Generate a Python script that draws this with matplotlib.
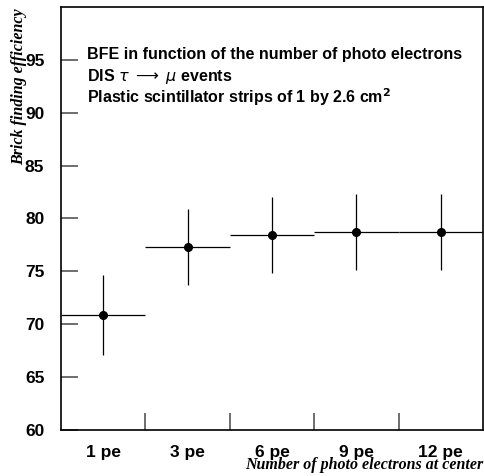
import numpy as np
import matplotlib
matplotlib.use("Agg")
import matplotlib.pyplot as plt

# brick finding efficiency per photo-electron threshold
categories = ["1 pe", "3 pe", "6 pe", "9 pe", "12 pe"]
efficiency = [70.9, 77.3, 78.4, 78.7, 78.7]
eff_err = [3.8, 3.6, 3.6, 3.6, 3.6]

x = np.arange(len(categories))

fig = plt.figure(figsize=(4.85, 4.76), dpi=100)
ax = fig.add_axes([61 / 485, 46 / 476, 422 / 485, 423 / 476])

ax.errorbar(x, efficiency, yerr=eff_err, xerr=0.5, fmt="o", color="black",
            ms=5.5, elinewidth=0.9, capsize=0)

ax.set_xlim(-0.5, len(categories) - 0.5)
ax.set_ylim(60, 100)

tick_font = dict(family="Liberation Sans", weight="bold", size=12.5)
ax.set_yticks(np.arange(60, 100, 5))
ax.set_yticklabels([str(v) for v in range(60, 100, 5)], **tick_font)
ax.set_xticks(x)
ax.set_xticklabels(categories, **tick_font)
ax.set_xticks(np.arange(0.5, len(categories) - 1, 1.0), minor=True)

ax.tick_params(axis="y", which="major", direction="in", length=12, width=1.2,
               color="#555555", pad=12)
ax.tick_params(axis="x", which="major", length=0, pad=11)
ax.tick_params(axis="x", which="minor", direction="in", length=12, width=1.2,
               color="#555555")
ax.tick_params(axis="y", which="minor", left=False)

for side in ["top", "right", "left", "bottom"]:
    ax.spines[side].set_linewidth(1.2)

label_font = dict(family="Liberation Serif", weight="bold", style="italic", size=11.5)
ax.set_ylabel("Brick finding efficiency", **label_font)
ax.yaxis.set_label_coords(-0.08, 0.997)
ax.yaxis.label.set_ha("right")
ax.set_xlabel("Number of photo electrons at center", **label_font)
ax.xaxis.set_label_coords(1.0, -0.065)
ax.xaxis.label.set_ha("right")

note_font = dict(family="Liberation Sans", weight="bold", size=11.5,
                 transform=ax.transAxes, va="baseline")
ax.text(0.0616, 0.877, "BFE in function of the number of photo electrons", **note_font)
ax.text(0.0616, 0.825, r"DIS $\tau$ $\longrightarrow$ $\mu$ events", **note_font)
ax.text(0.0616, 0.773, r"Plastic scintillator strips of 1 by 2.6 cm$^\mathbf{2}$", **note_font)

fig.savefig("out.png", dpi=100)
